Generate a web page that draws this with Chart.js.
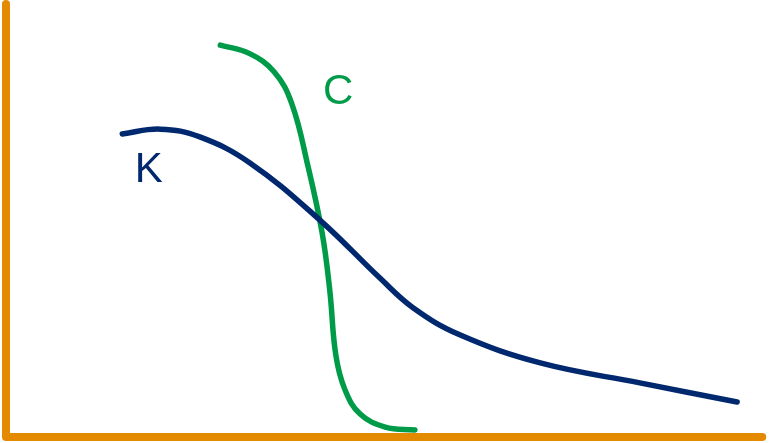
<!DOCTYPE html>
<html>
<head>
<meta charset="utf-8">
<script src="https://cdn.jsdelivr.net/npm/chart.js@4/dist/chart.umd.min.js"></script>
<style>
  html, body { margin: 0; padding: 0; background: #fff; }
  #wrap { width: 769px; height: 443px; }
</style>
</head>
<body>
<div id="wrap"><canvas id="chart"></canvas></div>
<script>
// Curva K (azul)
const kX = [15.3, 20.3, 25.5, 32.1, 41.3, 49.2, 53.6, 59.7, 70.3, 83.4, 96.2];
const kY = [70.0, 71.1, 69.3, 63.3, 50.1, 36.7, 29.8, 23.6, 17.1, 12.5, 8.1];

// Curva C (verde)
const cX = [28.2, 32.0, 35.3, 37.6, 39.7, 41.6, 42.6, 43.4, 44.6, 46.6, 49.9, 53.8];
const cY = [90.5, 88.6, 84.3, 77.0, 62.8, 47.1, 33.9, 18.9, 10.9, 5.3, 2.3, 1.6];

// Eixos (laranja)
const axisX = [0, 0, 99.5];
const axisY = [100, 0, 0];

// Rótulos
const labels = [
  { text: 'K', x: 18.8, y: 61.5, color: '#00286E' },
  { text: 'C', x: 43.7, y: 79.6, color: '#009B48' }
];

const toPoints = (xs, ys) => xs.map((x, i) => ({ x: x, y: ys[i] }));

const labelPlugin = {
  id: 'curveLabels',
  afterDatasetsDraw(chart) {
    const ctx = chart.ctx;
    const sx = chart.scales.x, sy = chart.scales.y;
    ctx.save();
    ctx.font = '42px "Liberation Sans", Arial, sans-serif';
    ctx.textAlign = 'center';
    ctx.textBaseline = 'middle';
    labels.forEach(l => {
      ctx.fillStyle = l.color;
      ctx.fillText(l.text, sx.getPixelForValue(l.x), sy.getPixelForValue(l.y));
    });
    ctx.restore();
  }
};

new Chart(document.getElementById('chart'), {
  type: 'line',
  data: {
    datasets: [
      {
        data: toPoints(axisX, axisY),
        borderColor: '#E48A00',
        borderWidth: 8,
        borderCapStyle: 'round',
        borderJoinStyle: 'round',
        tension: 0,
        pointRadius: 0,
        clip: false
      },
      {
        data: toPoints(kX, kY),
        borderColor: '#00286E',
        borderWidth: 5.5,
        borderCapStyle: 'round',
        tension: 0.4,
        pointRadius: 0,
        clip: false
      },
      {
        data: toPoints(cX, cY),
        borderColor: '#009B48',
        borderWidth: 5.5,
        borderCapStyle: 'round',
        tension: 0.4,
        pointRadius: 0,
        clip: false
      }
    ]
  },
  options: {
    responsive: true,
    maintainAspectRatio: false,
    animation: false,
    layout: { padding: { left: 6, right: 3, top: 4, bottom: 6 } },
    plugins: { legend: { display: false }, tooltip: { enabled: false } },
    scales: {
      x: { type: 'linear', min: 0, max: 100, display: false },
      y: { type: 'linear', min: 0, max: 100, display: false }
    }
  },
  plugins: [labelPlugin]
});
</script>
</body>
</html>
